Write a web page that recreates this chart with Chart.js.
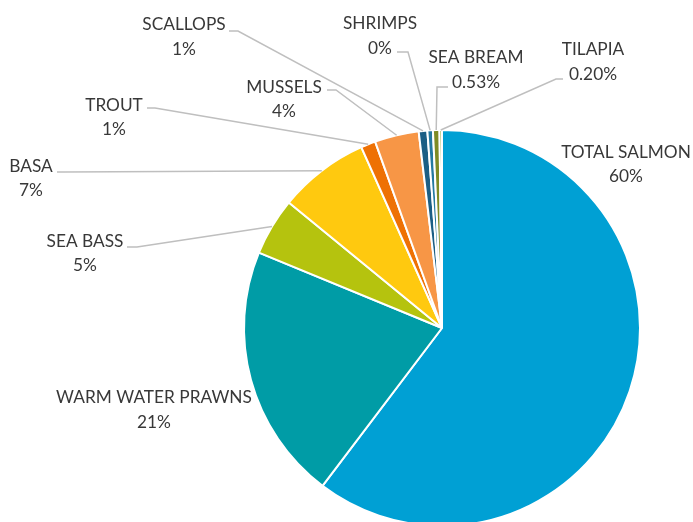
<!DOCTYPE html>
<html>
<head>
<meta charset="utf-8">
<script src="https://cdn.jsdelivr.net/npm/chart.js@4.4.1/dist/chart.umd.min.js"></script>
<style>
  html, body { margin: 0; padding: 0; background: #fff; overflow: hidden; }
  #clip { width: 693px; height: 522px; overflow: hidden; }
  #wrap { width: 693px; height: 540px; position: relative; }
</style>
</head>
<body>
<div id="clip"><div id="wrap"><canvas id="pie"></canvas></div></div>
<script>
// species, clockwise from 12 o'clock
const categories = ["TOTAL SALMON", "WARM WATER PRAWNS", "SEA BASS", "BASA", "TROUT",
                    "MUSSELS", "SCALLOPS", "SHRIMPS", "SEA BREAM", "TILAPIA"];
const shares = [60.3, 20.9, 4.7, 7.4, 1.2, 3.6, 0.7, 0.45, 0.53, 0.20];
const shareLabels = ["60%", "21%", "5%", "7%", "1%", "4%", "1%", "0%", "0.53%", "0.20%"];
const colors = ["#00A0D4", "#009CA6", "#B5C30E", "#FFC90F", "#EE7104", "#F79646",
                "#1B5E84", "#2479A0", "#7E8B24", "#8A9A1C"];

// where each label sits (text centre x, name line y, % line y) and its leader elbow
const labelPos = [
    { x: 626, y1: 152, y2: 176, lead: null },
    { x: 154, y1: 397, y2: 422, lead: null },
    { x: 85,  y1: 241, y2: 265, lead: [[127, 247], [137, 247]] },
    { x: 31,  y1: 166, y2: 190, lead: [[57, 172], [64, 172]] },
    { x: 114, y1: 105, y2: 129, lead: [[147, 108], [155, 108]] },
    { x: 284, y1: 87,  y2: 111, lead: [[327, 90], [336, 90]] },
    { x: 184, y1: 24,  y2: 49,  lead: [[229, 31], [238, 31]] },
    { x: 380, y1: 23,  y2: 48,  lead: [[397, 52], [408, 52]] },
    { x: 476, y1: 57,  y2: 82,  lead: [[448, 87], [437, 87]] },
    { x: 593, y1: 49,  y2: 74,  lead: [[563, 79], [556, 79]] },
];

const FONT = "17.3px Lato, 'Open Sans', sans-serif";

const labelPlugin = {
    id: "excelLabels",
    afterDatasetsDraw(chart) {
        const ctx = chart.ctx;
        const arcs = chart.getDatasetMeta(0).data;
        ctx.save();
        arcs.forEach((arc, i) => {
            const pos = labelPos[i];
            const p = arc.getProps(["x", "y", "startAngle", "endAngle", "outerRadius"], true);
            const mid = (p.startAngle + p.endAngle) / 2;
            const ax = p.x + Math.cos(mid) * p.outerRadius;
            const ay = p.y + Math.sin(mid) * p.outerRadius;
            if (pos.lead) {
                ctx.strokeStyle = "#BFBFBF";
                ctx.lineWidth = 1.5;
                ctx.beginPath();
                ctx.moveTo(pos.lead[0][0], pos.lead[0][1]);
                ctx.lineTo(pos.lead[1][0], pos.lead[1][1]);
                ctx.lineTo(ax, ay);
                ctx.stroke();
            }
            ctx.fillStyle = "#383838";
            ctx.font = FONT;
            ctx.textAlign = "center";
            ctx.textBaseline = "middle";
            ctx.fillText(categories[i], pos.x, pos.y1);
            ctx.fillText(shareLabels[i], pos.x, pos.y2);
        });
        ctx.restore();
    }
};

new Chart(document.getElementById("pie"), {
    type: "pie",
    data: {
        labels: categories,
        datasets: [{
            data: shares,
            backgroundColor: colors,
            borderColor: "#FFFFFF",
            borderWidth: 2
        }]
    },
    options: {
        animation: false,
        responsive: true,
        maintainAspectRatio: false,
        layout: { padding: { left: 243, right: 52, top: 129, bottom: 13 } },
        plugins: {
            legend: { display: false },
            tooltip: { enabled: false }
        }
    },
    plugins: [labelPlugin]
});
</script>
</body>
</html>
